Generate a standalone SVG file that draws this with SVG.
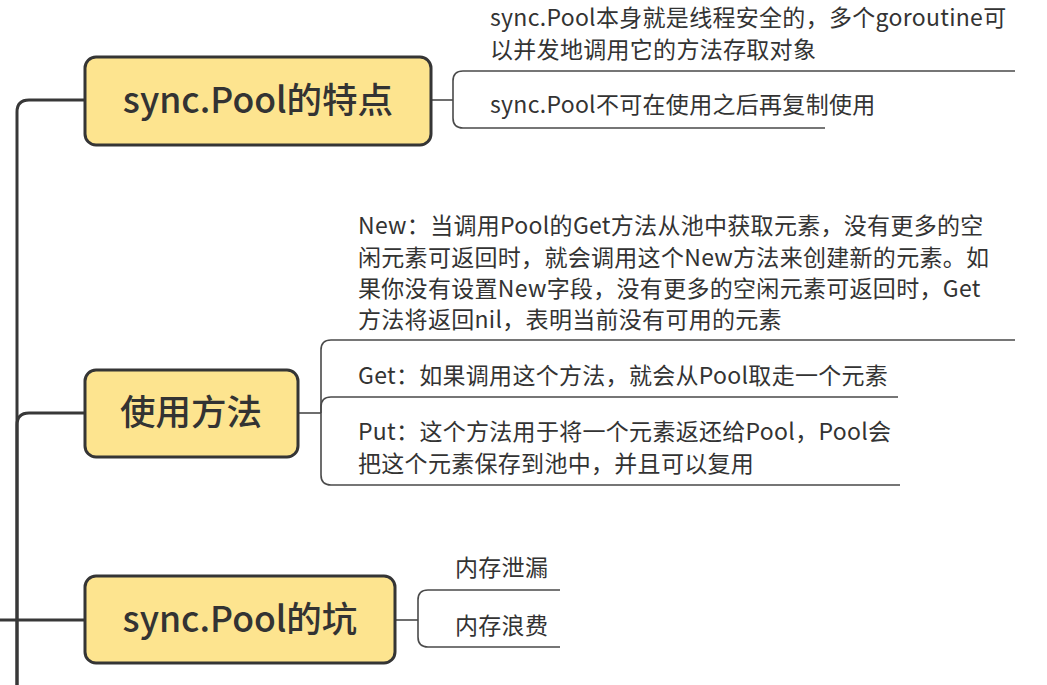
<svg xmlns="http://www.w3.org/2000/svg" width="1047" height="685" viewBox="0 0 1047 685">
<style>
.trunk{fill:none;stroke:#383838;stroke-width:3}
.sub{fill:none;stroke:#4a4a4a;stroke-width:1.6}
.box{fill:#fde48f;stroke:#353535;stroke-width:3}
.lbl{font-family:"Noto Sans CJK SC","Noto Sans",sans-serif;font-size:35.5px;font-weight:500;fill:#333;text-anchor:middle}
.txt{font-family:"Noto Sans CJK SC","Noto Sans",sans-serif;font-size:23px;letter-spacing:0.3px;fill:#333}
</style>
<rect width="1047" height="685" fill="#ffffff"/>
<g id="connectors">
<path class="trunk" d="M17,690 V112 Q17,100 29,100 H85"/>
<path class="trunk" d="M17,690 V425 Q17,413 29,413 H85"/>
<path class="trunk" d="M0,620 H85"/>
<path class="sub" d="M431,100 H453"/>
<path class="sub" d="M453,100 V81 Q453,71 463,71 H1015"/>
<path class="sub" d="M453,100 V118 Q453,128 463,128 H825"/>
<path class="sub" d="M298,413 H321"/>
<path class="sub" d="M321,413 V350 Q321,340 331,340 H1015"/>
<path class="sub" d="M321,413 V407 Q321,397 331,397 H898"/>
<path class="sub" d="M321,413 V475 Q321,485 331,485 H900"/>
<path class="sub" d="M395,620 H418"/>
<path class="sub" d="M418,620 V600 Q418,590 428,590 H560"/>
<path class="sub" d="M418,620 V637 Q418,647 428,647 H560"/>
</g>
<g id="node-features">
<rect class="box" x="85" y="57" width="346" height="88" rx="11"/>
<text class="lbl" x="258" y="113">sync.Pool的特点</text>
</g>
<g id="node-feature-1">
<text class="txt" x="490" y="26">sync.Pool本身就是线程安全的，多个goroutine可</text>
<text class="txt" x="490" y="58">以并发地调用它的方法存取对象</text>
</g>
<g id="node-feature-2">
<text class="txt" x="490" y="113">sync.Pool不可在使用之后再复制使用</text>
</g>
<g id="node-usage">
<rect class="box" x="85" y="370" width="213" height="87" rx="11"/>
<text class="lbl" x="191" y="425">使用方法</text>
</g>
<g id="node-new">
<text class="txt" x="358" y="234">New：当调用Pool的Get方法从池中获取元素，没有更多的空</text>
<text class="txt" x="358" y="266">闲元素可返回时，就会调用这个New方法来创建新的元素。如</text>
<text class="txt" x="358" y="297">果你没有设置New字段，没有更多的空闲元素可返回时，Get</text>
<text class="txt" x="358" y="328">方法将返回nil，表明当前没有可用的元素</text>
</g>
<g id="node-get">
<text class="txt" x="358" y="384">Get：如果调用这个方法，就会从Pool取走一个元素</text>
</g>
<g id="node-put">
<text class="txt" x="358" y="440">Put：这个方法用于将一个元素返还给Pool，Pool会</text>
<text class="txt" x="358" y="472">把这个元素保存到池中，并且可以复用</text>
</g>
<g id="node-pitfalls">
<rect class="box" x="85" y="576" width="310" height="87" rx="11"/>
<text class="lbl" x="240" y="632">sync.Pool的坑</text>
</g>
<g id="node-leak">
<text class="txt" x="455" y="576">内存泄漏</text>
</g>
<g id="node-waste">
<text class="txt" x="455" y="634">内存浪费</text>
</g>
</svg>
